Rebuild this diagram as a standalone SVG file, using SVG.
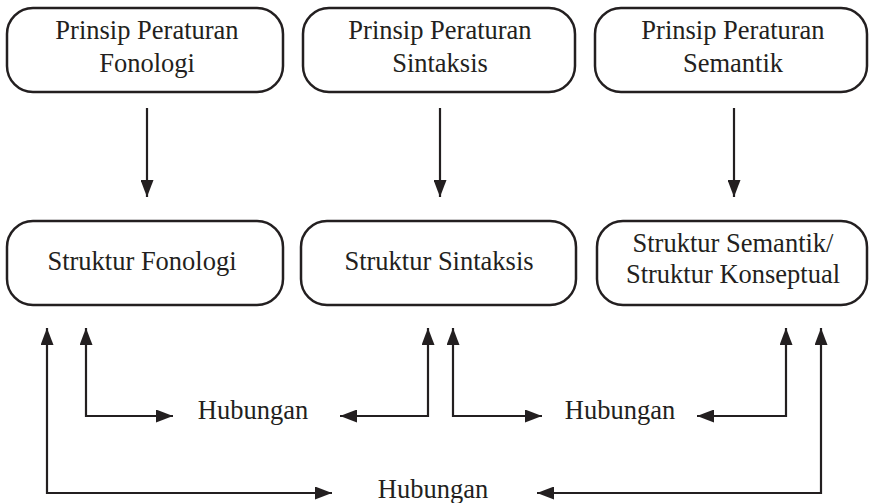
<svg xmlns="http://www.w3.org/2000/svg" width="870" height="503" viewBox="0 0 870 503">
<style>
.box{fill:#fff;stroke:#231f20;stroke-width:2.5}
.t{font-size:26.5px;fill:#231f20;text-anchor:middle}
.c{fill:none;stroke:#231f20;stroke-width:2.2}
</style>
<defs>
<marker id="ah" viewBox="0 0 17 13" refX="17" refY="6.5" markerWidth="17" markerHeight="13" markerUnits="userSpaceOnUse" orient="auto-start-reverse">
<path d="M0,0 L17,6.5 L0,13 z" fill="#231f20"/>
</marker>
</defs>
<rect width="870" height="503" fill="#fff"/>
<g font-family="'Liberation Serif', 'DejaVu Serif', serif">
<g id="n1">
<rect class="box" x="7" y="8" width="276" height="84" rx="26"/>
<text class="t" x="147" y="39">Prinsip Peraturan</text>
<text class="t" x="147" y="72">Fonologi</text>
</g>
<g id="n2">
<rect class="box" x="303" y="8" width="272" height="84" rx="26"/>
<text class="t" x="440" y="39">Prinsip Peraturan</text>
<text class="t" x="440" y="72">Sintaksis</text>
</g>
<g id="n3">
<rect class="box" x="595" y="8" width="272" height="84" rx="26"/>
<text class="t" x="733" y="39">Prinsip Peraturan</text>
<text class="t" x="733" y="72">Semantik</text>
</g>
<g id="n4">
<rect class="box" x="7" y="221" width="276" height="84" rx="26"/>
<text class="t" x="142" y="270">Struktur Fonologi</text>
</g>
<g id="n5">
<rect class="box" x="301" y="221" width="275" height="84" rx="26"/>
<text class="t" x="439" y="270">Struktur Sintaksis</text>
</g>
<g id="n6">
<rect class="box" x="597" y="221" width="270" height="84" rx="26"/>
<text class="t" x="733" y="252">Struktur Semantik/</text>
<text class="t" x="733" y="283">Struktur Konseptual</text>
</g>
<g id="n7"><text class="t" x="253" y="419">Hubungan</text></g>
<g id="n8"><text class="t" x="620" y="419">Hubungan</text></g>
<g id="n9"><text class="t" x="433" y="498">Hubungan</text></g>
</g>
<g id="connectors">
<path class="c" d="M147,108 L147,197" marker-end="url(#ah)"/>
<path class="c" d="M440,108 L440,197" marker-end="url(#ah)"/>
<path class="c" d="M734,108 L734,197" marker-end="url(#ah)"/>
<path class="c" d="M47,328 L47,493 L332,493" marker-start="url(#ah)" marker-end="url(#ah)"/>
<path class="c" d="M86,328 L86,416 L173,416" marker-start="url(#ah)" marker-end="url(#ah)"/>
<path class="c" d="M428,328 L428,416 L340,416" marker-start="url(#ah)" marker-end="url(#ah)"/>
<path class="c" d="M453,328 L453,416 L542,416" marker-start="url(#ah)" marker-end="url(#ah)"/>
<path class="c" d="M786,328 L786,416 L697,416" marker-start="url(#ah)" marker-end="url(#ah)"/>
<path class="c" d="M821,328 L821,493 L537,493" marker-start="url(#ah)" marker-end="url(#ah)"/>
</g>
</svg>
